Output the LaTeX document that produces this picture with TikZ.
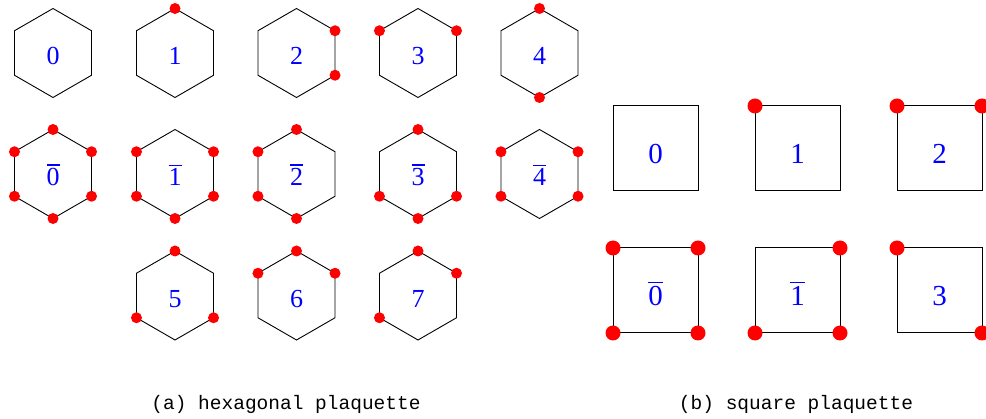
\documentclass[tikz,border=0pt]{standalone}
\usepackage{fontspec}
\setmainfont{Liberation Serif}
\newfontfamily\capfont{Liberation Mono}
\newcommand\hexplaq[4]{%
  \draw[hexline] (#2,#3) +(90:44.5) -- +(150:44.5) -- +(210:44.5) -- +(270:44.5) -- +(330:44.5) -- +(30:44.5) -- cycle;
  \node[hexlab] (#1) at (#2,#3-12) {#4};}
\newcommand\hexdots[3]{\foreach \a in {#3} {\fill[plaqdot] (#1,#2) ++(\a:44.5) circle (5.5);}}
\newcommand\sqplaq[4]{%
  \draw[sqline] (#2-42.5,#3-42.5) rectangle (#2+42.5,#3+42.5);
  \node[sqlab] (#1) at (#2,#3-15) {#4};}
\newcommand\sqdots[3]{\foreach \dx/\dy in {#3} {\fill[plaqdot] (#1+\dx*42.5,#2+\dy*42.5) circle (7.5);}}
\newcommand\barred[1]{\setbox0=\hbox{#1}\vbox{\hrule height 1.3pt width \wd0\kern 3pt\box0}}
\begin{document}
\begin{tikzpicture}[x=1pt,y=1pt,
  hexline/.style={draw=black,line width=0.9pt},
  sqline/.style={draw=black,line width=1pt},
  plaqdot/.style={fill=red},
  hexlab/.style={text=blue,font=\fontsize{26}{30}\selectfont,anchor=base,inner sep=0pt},
  sqlab/.style={text=blue,font=\fontsize{29}{33}\selectfont,anchor=base,inner sep=0pt},
  caplab/.style={font=\capfont\fontsize{19.5}{23}\selectfont,anchor=base,inner sep=0pt}]
\useasboundingbox (0,0) rectangle (986,-419);
% hexagons row 1
\hexplaq{h0}{53}{-53}{0}
\hexplaq{h1}{175}{-53}{1}
\hexdots{175}{-53}{90}
\hexplaq{h2}{296.5}{-53}{2}
\hexdots{296.5}{-53}{30,330}
\hexplaq{h3}{418}{-53}{3}
\hexdots{418}{-53}{150,30}
\hexplaq{h4}{539.5}{-53}{4}
\hexdots{539.5}{-53}{90,270}
% hexagons row 2
\hexplaq{hb0}{53}{-174}{\barred{0}}
\hexdots{53}{-174}{90,150,210,270,330,30}
\hexplaq{hb1}{175}{-174}{\barred{1}}
\hexdots{175}{-174}{150,210,270,330,30}
\hexplaq{hb2}{296.5}{-174}{\barred{2}}
\hexdots{296.5}{-174}{90,150,210,270}
\hexplaq{hb3}{418}{-174}{\barred{3}}
\hexdots{418}{-174}{90,210,270,330}
\hexplaq{hb4}{539.5}{-174}{\barred{4}}
\hexdots{539.5}{-174}{150,210,330,30}
% hexagons row 3
\hexplaq{h5}{175}{-295.5}{5}
\hexdots{175}{-295.5}{90,210,330}
\hexplaq{h6}{296.5}{-295.5}{6}
\hexdots{296.5}{-295.5}{90,150,30}
\hexplaq{h7}{418}{-295.5}{7}
\hexdots{418}{-295.5}{90,30,210}
% squares
\sqplaq{s0}{655.5}{-148.5}{0}
\sqplaq{s1}{797.5}{-148.5}{1}
\sqdots{797.5}{-148.5}{-1/1}
\sqplaq{s2}{939.5}{-148.5}{2}
\sqdots{939.5}{-148.5}{-1/1,1/1}
\sqplaq{sb0}{655.5}{-290.5}{\barred{0}}
\sqdots{655.5}{-290.5}{-1/1,1/1,-1/-1,1/-1}
\sqplaq{sb1}{797.5}{-290.5}{\barred{1}}
\sqdots{797.5}{-290.5}{1/1,-1/-1,1/-1}
\sqplaq{s3}{939.5}{-290.5}{3}
\sqdots{939.5}{-290.5}{-1/1,1/-1}
% captions
\node[caplab] (capa) at (286,-410) {(a) hexagonal plaquette};
\node[caplab] (capb) at (796,-410) {(b) square plaquette};
\end{tikzpicture}
\end{document}
